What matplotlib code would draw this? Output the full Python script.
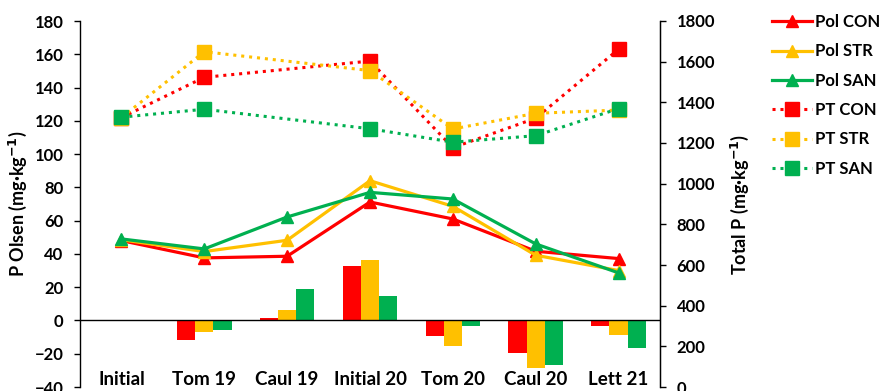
import numpy as np
import matplotlib.pyplot as plt

plt.rcParams['font.family'] = ['Lato', 'DejaVu Sans']
plt.rcParams['font.weight'] = 'bold'

categories = ['Initial', 'Tom 19', 'Caul 19', 'Initial 20', 'Tom 20', 'Caul 20', 'Lett 21']

# P Olsen (mg/kg), left axis
pol_con = [48.0, 37.6, 38.6, 71.2, 61.0, 41.6, 37.2]
pol_str = [48.5, 41.4, 48.2, 84.0, 68.6, 39.2, 30.0]
pol_san = [49.0, 43.0, 62.2, 77.0, 73.0, 46.0, 28.6]

# change in P Olsen, bars on the left axis (no bar for Initial)
d_con = [np.nan, -11.6, 1.5, 33.0, -9.2, -19.6, -3.6]
d_str = [np.nan, -6.8, 6.4, 36.4, -15.2, -28.6, -8.8]
d_san = [np.nan, -5.6, 19.0, 15.0, -3.6, -26.8, -16.6]

# total P (mg/kg), right axis (not measured at Caul 19)
pt_con = [1325, 1523, np.nan, 1603, 1177, 1322, 1661]
pt_str = [1325, 1649, np.nan, 1556, 1269, 1346, 1362]
pt_san = [1327, 1366, np.nan, 1270, 1204, 1236, 1369]

red = '#FF0000'
yellow = '#FFC000'
green = '#00B050'

fig = plt.figure(figsize=(8.84, 3.91), dpi=100)
ax = fig.add_axes([80 / 884, 4 / 391, 580 / 884, 366 / 391])
ax2 = ax.twinx()

x = np.arange(len(categories))
w = 0.22

for off, vals, c in [(-w, d_con, red), (0, d_str, yellow), (w, d_san, green)]:
    v = np.array(vals)
    ok = ~np.isnan(v)
    ax.bar(x[ok] + off, v[ok], width=w, color=c, zorder=2)

ax.axhline(0, color='black', lw=1, zorder=3)

handles = []
for vals, c, name in [(pol_con, red, 'Pol CON'), (pol_str, yellow, 'Pol STR'), (pol_san, green, 'Pol SAN')]:
    h, = ax.plot(x, vals, color=c, lw=2.3, marker='^', markersize=9, label=name, zorder=4)
    handles.append(h)

for vals, c, name in [(pt_con, red, 'PT CON'), (pt_str, yellow, 'PT STR'), (pt_san, green, 'PT SAN')]:
    v = np.array(vals, dtype=float)
    ok = ~np.isnan(v)
    h, = ax2.plot(x[ok], v[ok], color=c, lw=2.2, linestyle=(0, (1, 1.6)),
                  marker='s', markersize=9.5, label=name)
    handles.append(h)

ax.set_xlim(-0.5, len(categories) - 0.5)
ax.set_ylim(-40, 180)
ax.set_yticks(np.arange(-40, 181, 20))
ax2.set_ylim(0, 1800)
ax2.set_yticks(np.arange(0, 1801, 200))

ax.set_xticks([])
for i, cat in enumerate(categories):
    ax.text(i, -35.5, cat, ha='center', va='center', fontsize=13.5, fontweight='bold')

for a in (ax, ax2):
    a.spines['top'].set_visible(False)
    a.spines['bottom'].set_visible(False)
    a.tick_params(axis='y', labelsize=12, width=1, length=4, pad=8)
ax.spines['left'].set_linewidth(1)
ax2.spines['right'].set_linewidth(1)
ax2.spines['left'].set_visible(False)

ax.set_ylabel('P Olsen (mg·kg$^{-1}$)', fontsize=13, fontweight='bold', labelpad=4)
ax2.set_ylabel('Total P (mg·kg$^{-1}$)', fontsize=13, fontweight='bold', labelpad=10)

fig.legend(handles=handles, loc='upper left', bbox_to_anchor=(772 / 884, 1 - 14 / 391),
           frameon=False, fontsize=12, handlelength=2.4, handletextpad=0.2,
           labelspacing=0.8, numpoints=1, borderpad=0, borderaxespad=0)

fig.savefig('out.png', dpi=100)
